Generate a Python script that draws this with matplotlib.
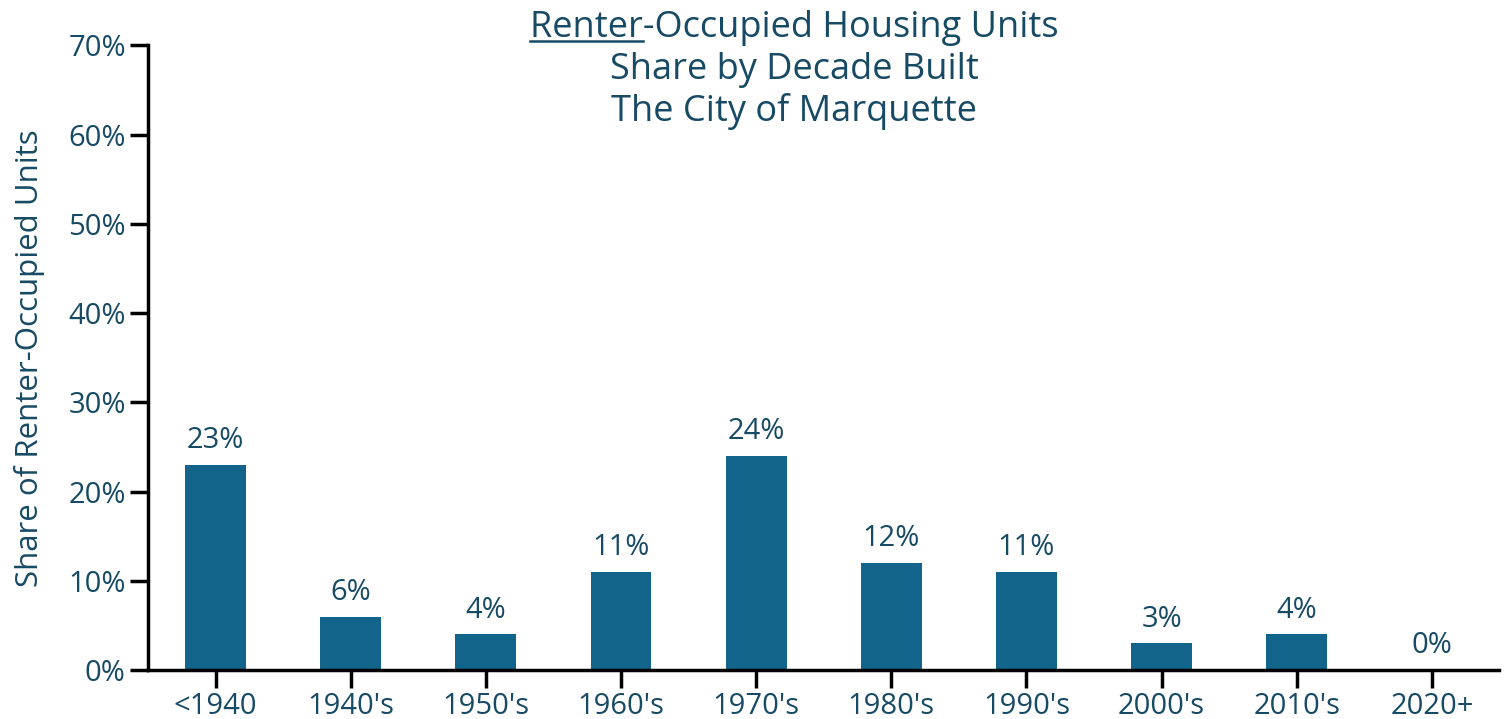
import matplotlib.pyplot as plt
from matplotlib.lines import Line2D

plt.rcParams['font.family'] = ['Open Sans', 'DejaVu Sans']

#--- Data ---------------------------------------------------------------------
decades = ['<1940', "1940's", "1950's", "1960's", "1970's",
           "1980's", "1990's", "2000's", "2010's", '2020+']
share = [23, 6, 4, 11, 24, 12, 11, 3, 4, 0]
yticks = [0, 10, 20, 30, 40, 50, 60, 70]

bar_col = '#12648A'
txt_col = '#174A64'
fs = 21

#--- Plot ---------------------------------------------------------------------
fig = plt.figure(figsize=(15.1, 7.19), dpi=100)
ax = fig.add_axes([0.098, 0.068, 0.895, 0.869])

x = list(range(len(decades)))
bars = ax.bar(x, share, width=0.45, color=bar_col)
for xi, v in zip(x, share):
    ax.annotate(f'{v}%', (xi, v), xytext=(0, 7), textcoords='offset points',
                ha='center', va='bottom', fontsize=fs, color=txt_col)

ax.set_xlim(-0.5, len(decades) - 0.5)
ax.set_ylim(0, 70)
ax.set_xticks(x)
ax.set_xticklabels(decades)
ax.set_yticks(yticks)
ax.set_yticklabels([f'{t}%' for t in yticks])
ax.tick_params(axis='both', labelsize=fs, labelcolor=txt_col, width=2.5,
               length=13, color='black', pad=3)
ax.set_ylabel('Share of Renter-Occupied Units', fontsize=22.5, color=txt_col, labelpad=17)

for s in ['top', 'right']:
    ax.spines[s].set_visible(False)
for s in ['left', 'bottom']:
    ax.spines[s].set_linewidth(2.5)

#--- Title with underlined "Renter" -------------------------------------------
tx = 0.526
tfs = 26
t1 = fig.text(tx, 1 - 28 / 719, 'Renter-Occupied Housing Units', ha='center', va='center',
              fontsize=tfs, color=txt_col)
fig.text(tx, 1 - 70 / 719, 'Share by Decade Built', ha='center', va='center',
         fontsize=tfs, color=txt_col)
fig.text(tx, 1 - 111 / 719, 'The City of Marquette', ha='center', va='center',
         fontsize=tfs, color=txt_col)

fig.canvas.draw()
r = fig.canvas.get_renderer()
bb = t1.get_window_extent(r)
tmp = fig.text(0, 0, 'Renter', fontsize=tfs)
wr = tmp.get_window_extent(r).width
tmp.remove()
W, H = fig.bbox.width, fig.bbox.height
x0 = bb.x0 / W
x1 = (bb.x0 + wr) / W
yl = (bb.y0 + 5) / H
fig.add_artist(Line2D([x0, x1], [yl, yl], transform=fig.transFigure,
                      color=txt_col, linewidth=1.8))

plt.savefig('out.png', dpi=100)
